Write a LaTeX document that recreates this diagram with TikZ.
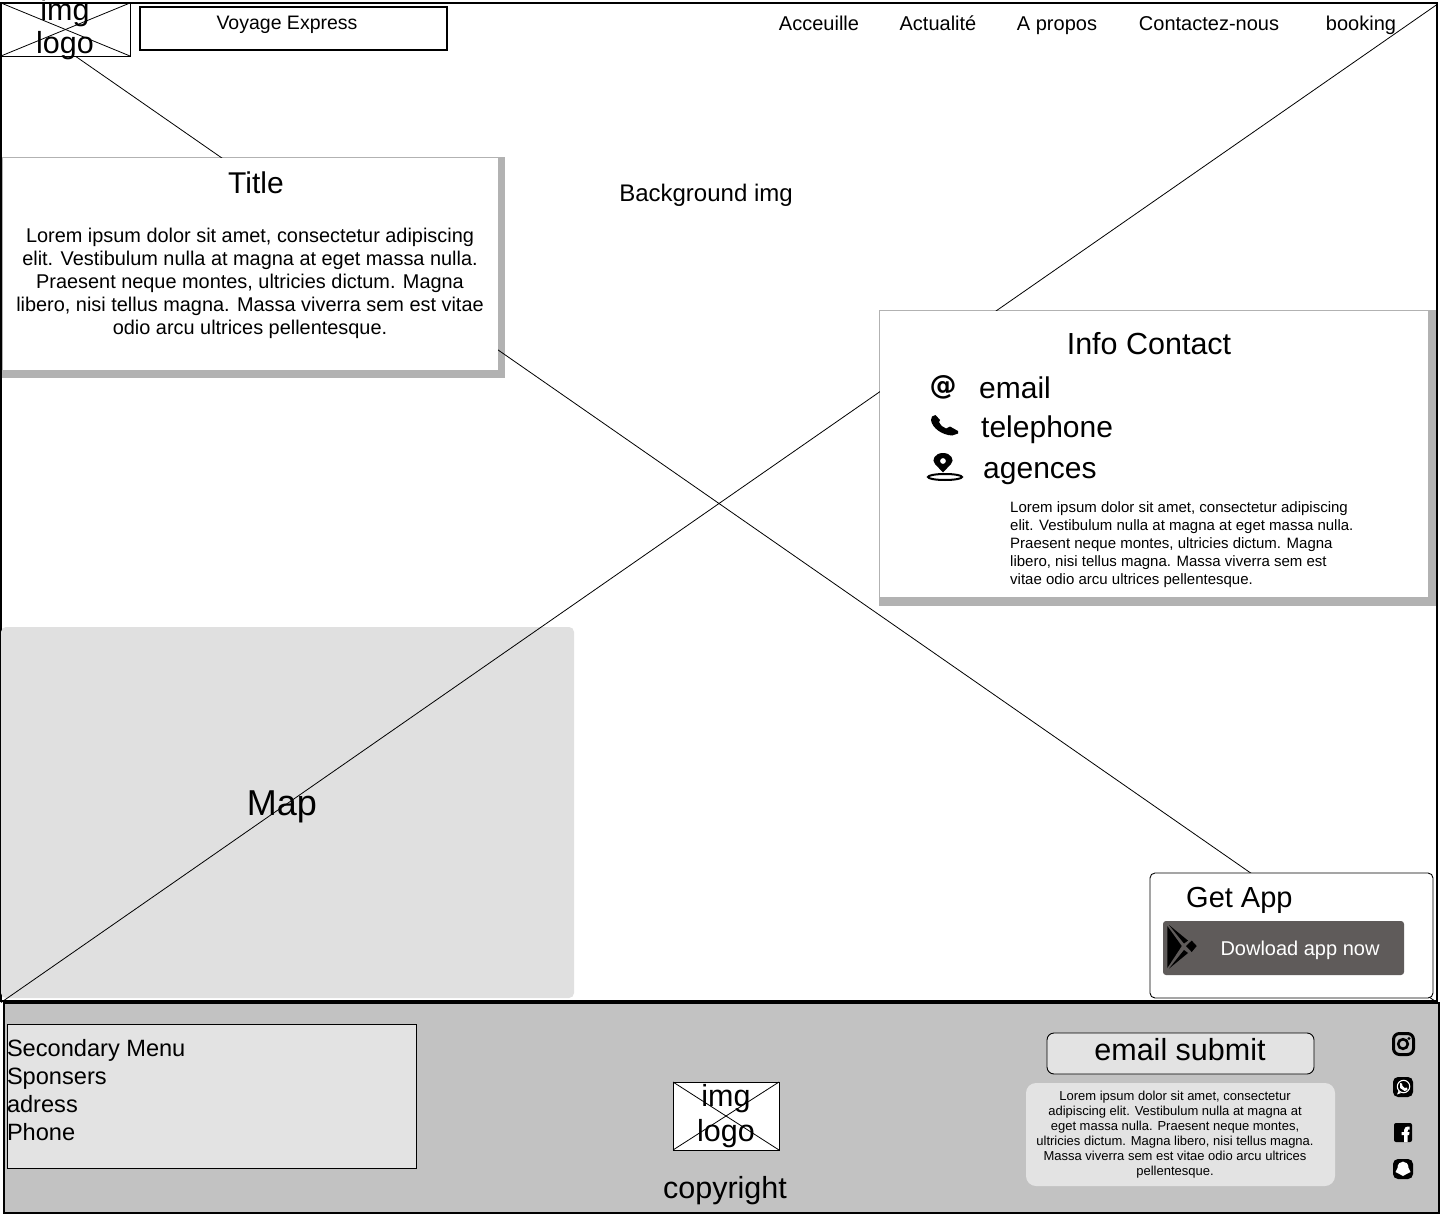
\documentclass[tikz,border=0pt]{standalone}
\usepackage{fontspec}
\setmainfont{Liberation Sans}
\newfontfamily\atfont{DejaVu Sans}
\definecolor{appgray}{HTML}{5F5B5A}
\begin{document}
\begin{tikzpicture}[x=1pt,y=-1pt,
  txt/.style={inner sep=0pt,anchor=base,font=\fontsize{#1}{#1}\selectfont},
  ltxt/.style={inner sep=0pt,anchor=base west,font=\fontsize{#1}{#1}\selectfont},
  box/.style={draw=black,line width=#1,inner sep=0pt,outer sep=0pt,anchor=north west},
  flat/.style={inner sep=0pt,outer sep=0pt,anchor=north west},
  card/.style={flat,fill=white},
  shade/.style={flat,fill=black!30},
  thin line/.style={line width=0.8pt}]
\useasboundingbox (0,0) rectangle (1440,1214);
\node[box=2pt,minimum width=1436pt,minimum height=998pt,fill=white] (bgimg) at (1,3) {};
\node[flat,fill=black!12,rounded corners=5pt,minimum width=573pt,minimum height=371pt] (map) at (1,627) {};
\node[shade,minimum width=503pt,minimum height=220.5pt] (titleshade) at (2,157.5) {};
\node[shade,minimum width=556.5pt,minimum height=295.5pt] (infoshade) at (879,310.5) {};
\draw[thin line] ([yshift=-1.5pt]bgimg.north west) -- ([yshift=-1.5pt]bgimg.south east);
\draw[thin line] ([yshift=-1.5pt]bgimg.north east) -- ([yshift=-1.5pt]bgimg.south west);
\node[txt=36] (maplabel) at (282,815) {Map};
\node[txt=24] (bglabel) at (706,202) {Background img};

\node[box=0.8pt,fill=white,minimum width=129pt,minimum height=53pt] (logo) at (1,3) {};
\draw[thin line] (logo.north west) -- (logo.south east);
\draw[thin line] (logo.north east) -- (logo.south west);
\node[align=center,inner sep=0pt,font=\fontsize{30.5}{33}\selectfont] (logotxt) at (65,29.5) {img\\logo};
\node[box=2pt,minimum width=307pt,minimum height=43pt] (brandbox) at (140,7) {};
\node[txt=19.5] (brand) at (287,30) {Voyage Express};
\node[txt=20] (menua) at (819,31) {Acceuille};
\node[txt=20] (menub) at (938,31) {Actualité};
\node[txt=20] (menuc) at (1057,31) {A propos};
\node[txt=20] (menud) at (1209,31) {Contactez-nous};
\node[txt=20] (menue) at (1361,31) {booking};

\node[card,minimum width=495pt,minimum height=212pt] (titlecard) at (2.5,158) {};
\node[txt=30] (title) at (256,194) {Title};
\node[inner sep=0pt,align=center,font=\fontsize{19.9}{23}\selectfont] (titletxt) at (250,283) {Lorem ipsum dolor sit amet, consectetur adipiscing\\elit. Vestibulum nulla at magna at eget massa nulla.\\Praesent neque montes, ultricies dictum. Magna\\libero, nisi tellus magna. Massa viverra sem est vitae\\odio arcu ultrices pellentesque.};

\node[card,minimum width=548pt,minimum height=286pt] (infocard) at (880,311) {};
\node[txt=30.5] (infotitle) at (1149,355) {Info Contact};
\node[ltxt=30] (email) at (979,399) {email};
\node[ltxt=30] (phone) at (981,437) {telephone};
\node[ltxt=30] (agences) at (983,478) {agences};
\node[inner sep=0pt,font=\atfont\fontsize{27}{27}\bfseries\selectfont] (aticon) at (943,387.5) {@};
\fill (931,420) .. controls (932,428) and (942,435) .. (952,435.5) -- (958,433.5) -- (958,431) -- (950,426.5) -- (946,428.5) .. controls (943,427) and (941,426) .. (939,422) -- (940,420) -- (935.5,415) -- (932,416.5) -- cycle;
\fill[even odd rule] (943,453) .. controls (935,453) and (931,460) .. (935,464) -- (943,472.5) -- (951,464) .. controls (955,460) and (951,453) .. (943,453) -- cycle (943,461) circle (3);
\draw[line width=2pt] (945,477) ellipse (17 and 3);
\node[anchor=west,inner sep=0pt,align=left,font=\fontsize{15}{18}\selectfont] (infotxt) at (1010,545) {Lorem ipsum dolor sit amet, consectetur adipiscing\\elit. Vestibulum nulla at magna at eget massa nulla.\\Praesent neque montes, ultricies dictum. Magna\\libero, nisi tellus magna. Massa viverra sem est\\vitae odio arcu ultrices pellentesque.};

\node[box=0.9pt,fill=white,rounded corners=5pt,minimum width=283pt,minimum height=125pt] (appbox) at (1150,873) {};
\node[ltxt=29] (apptitle) at (1186,907) {Get App};
\node[flat,fill=appgray,rounded corners=3pt,minimum width=241pt,minimum height=54pt] (appbtn) at (1163,921) {};
\node[txt=20,text=white] (applabel) at (1300,955) {Dowload app now};
\fill (1167.3,926) -- (1181.7,946) -- (1167.3,968) -- cycle;
\fill (1169,925) -- (1188,940.6) -- (1184,943.5) -- cycle;
\fill (1169,968.6) -- (1188,953) -- (1184,950) -- cycle;
\fill (1186,946) -- (1191.7,940.6) -- (1196.7,946) -- (1191.7,952) -- cycle;

\node[box=2pt,fill=black!24,minimum width=1435pt,minimum height=210pt] (footer) at (4,1003) {};
\node[box=0.9pt,fill=black!11,minimum width=409pt,minimum height=144pt] (secbox) at (7,1024) {};
\node[flat,align=left,font=\fontsize{23.6}{28}\selectfont] (sectxt) at (7,1039) {Secondary Menu\\Sponsers\\adress\\Phone};
\node[box=0.9pt,fill=white,minimum width=106pt,minimum height=68pt] (footlogo) at (673,1082) {};
\draw[thin line] (footlogo.north west) -- (footlogo.south east);
\draw[thin line] (footlogo.north east) -- (footlogo.south west);
\node[align=center,inner sep=0pt,font=\fontsize{30.5}{35}\selectfont] (footlogotxt) at (726,1116) {img\\logo};
\node[txt=30.5] (copyright) at (725,1198) {copyright};
\node[box=0.9pt,fill=black!11,rounded corners=7pt,minimum width=267pt,minimum height=41pt] (submitbox) at (1047,1033) {};
\node[txt=30.5] (submit) at (1180,1060) {email submit};
\node[flat,fill=black!11,rounded corners=10pt,minimum width=309pt,minimum height=103pt] (footbox) at (1026,1083) {};
\node[align=center,inner sep=0pt,font=\fontsize{13}{15}\selectfont] (foottxt) at (1175,1135) {Lorem ipsum dolor sit amet, consectetur\\adipiscing elit. Vestibulum nulla at magna at\\eget massa nulla. Praesent neque montes,\\ultricies dictum. Magna libero, nisi tellus magna.\\Massa viverra sem est vitae odio arcu ultrices\\pellentesque.};

\draw[line width=3pt,rounded corners=6pt] (1393.5,1033.5) rectangle (1413.5,1054.5);
\draw[line width=2.6pt] (1403,1044) circle (4.8);
\fill (1409,1038.5) circle (1.6);
\fill[rounded corners=5pt] (1393,1077) rectangle (1413,1097);
\draw[white,line width=1.1pt] (1403.5,1086.5) circle (6.2);
\fill[white] (1398.5,1091) -- (1397,1094.5) -- (1401,1093) -- cycle;
\fill[white] (1400,1083) -- (1402,1083.5) -- (1402.5,1086) -- (1404.5,1088) -- (1407,1087.5) -- (1407.5,1090) -- (1404.5,1091) -- (1400,1088) -- cycle;
\fill[rounded corners=2pt] (1394,1123) rectangle (1412,1142);
\fill[white] (1404,1142) -- (1404,1135) -- (1401.5,1135) -- (1401.5,1132) -- (1404,1132) -- (1404,1130) .. controls (1404,1127.5) and (1406,1126.5) .. (1409.5,1126.5) -- (1409.5,1129.5) -- (1408,1129.5) -- (1407.5,1132) -- (1409.5,1132) -- (1409,1135) -- (1407.5,1135) -- (1407.5,1142) -- cycle;
\fill[rounded corners=5pt] (1393,1159) rectangle (1413,1179);
\fill[white] (1397.5,1168) .. controls (1397.5,1159.5) and (1408.5,1159.5) .. (1408.5,1168) -- (1410.5,1172) -- (1407.5,1173.5) -- (1403,1176) -- (1398.5,1173.5) -- (1395.5,1172) -- cycle;
\end{tikzpicture}
\end{document}
